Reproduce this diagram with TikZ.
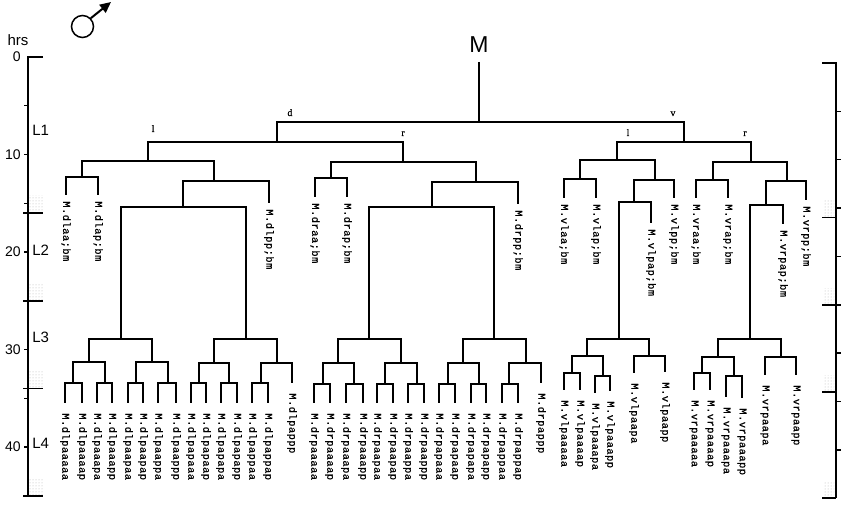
\documentclass[tikz,border=0pt]{standalone}
\usepackage{fontspec}
\setsansfont{Liberation Sans}
\newfontfamily\celltt[LetterSpace=4, FakeBold=0.7]{Liberation Mono}
\newfontfamily\sidefont[FakeBold=0.8]{Liberation Serif}
\usetikzlibrary{arrows.meta, positioning, patterns}

\begin{document}
\begin{tikzpicture}[x=1pt, y=-1pt, line width=2.6pt,
    lin/.style={draw, to path={-| (\tikztotarget) \tikztonodes}},
    br/.style={font=\sidefont\fontsize{10}{10}\selectfont, inner sep=0pt, anchor=base, yshift=6pt},
    fate/.style={font=\celltt\fontsize{10.5}{10.5}\selectfont, rotate=-90, anchor=west, inner xsep=5pt, inner ysep=0pt},
    fatel/.style={fate, inner xsep=9pt},
    root/.style={font=\sffamily\fontsize{23}{23}\selectfont, inner sep=0pt},
    axis/.style={line width=1.5pt},
    hour/.style={font=\sffamily\fontsize{14}{14}\selectfont, inner sep=0pt},
    stage/.style={font=\sffamily\fontsize{15}{15}\selectfont, inner sep=0pt, anchor=west},
    sleep/.style={pattern=dots, pattern color=gray!60}]
  \useasboundingbox (0,0) rectangle (850,513);

  %define the sex symbol
  \node[draw, circle, line width=1.5pt, minimum size=22pt, inner sep=0pt] (male) at (82.5,26.5) {};
  \coordinate (maletip) at (111,2);
  \draw[line width=2pt, -{Triangle[length=11pt,width=10pt]}] (male.45) -- (maletip);

  %define the time axes
  \foreach \y in {195,283,371,479} \fill[sleep] (28,\y) rectangle (43,{\y+17});
  \foreach \y in {200,288,375,481} \fill[sleep] (823,\y) rectangle (834,{\y+17});
  \draw[axis] (43,57) -- (28,57) -- (28,496);
  \foreach \h in {5,10,...,40} \draw[axis] (28,{57+9.75*\h}) -- ++(-4,0);
  \foreach \h in {16,25,34,45} \draw[axis] (23,{57+9.75*\h}) -- ++(20,0);
  \foreach \h in {0,10,...,40} \node[hour, anchor=east] (n\h) at (22,{57+9.75*\h}) {\h};
  \node[hour, font=\sffamily\fontsize{15}{15}\selectfont] (hrs) at (18,40) {hrs};
  \foreach \s/\y in {L1/130,L2/250,L3/337,L4/443} \node[stage] (\s) at (31,\y) {\s};
  \draw[axis] (822,63) -- (836,63) -- (836,498);
  \foreach \h in {5,10,...,40} \draw[axis] (836,{63+9.67*\h}) -- ++(5,0);
  \foreach \h in {16,25,34,45} \draw[axis] (822,{63+9.67*\h}) -- ++(14,0);

  %define the cells
  \coordinate (Mtop) at (479,62);
  \node[root, above=8pt of Mtop] (Mname) {M};
  \foreach \c/\x/\y in {
      M/479/122, d/277/142, v/684/142,
      dl/148/161, dr/403/162, vl/617/160, vr/751/162,
      dla/82/177, dlp/214/181, dlaa/66/195, dlap/98/195,
      dlpa/183/207, dlpp/269/203, dlpaa/121/339, dlpap/246/339,
      dlpaaa/89/362, dlpaap/152/362, dlpapa/214/363, dlpapp/277/363,
      dlpaaaa/73/383, dlpaaap/105/383, dlpaapa/136/383, dlpaapp/168/383,
      dlpapaa/199/383, dlpapap/229/383, dlpappa/261/383, dlpappp/292/383,
      dlpaaaaa/65/403, dlpaaaap/82/403, dlpaaapa/97/403, dlpaaapp/112/403,
      dlpaapaa/128/403, dlpaapap/143/403, dlpaappa/158/403, dlpaappp/176/403,
      dlpapaaa/191/403, dlpapaap/206/403, dlpapapa/221/403, dlpapapp/237/403,
      dlpappaa/252/403, dlpappap/268/403,
      dra/331/178, drp/476/182, draa/315/197, drap/347/197,
      drpa/432/207, drpp/518/204, drpaa/369/339, drpap/494/339,
      drpaaa/338/363, drpaap/401/363, drpapa/463/363, drpapp/526/363,
      drpaaaa/323/384, drpaaap/354/384, drpaapa/385/384, drpaapp/417/384,
      drpapaa/448/384, drpapap/479/384, drpappa/509/384, drpappp/541/383,
      drpaaaaa/314/403, drpaaaap/330/403, drpaaapa/346/403, drpaaapp/363/403,
      drpaapaa/377/403, drpaapap/393/403, drpaappa/408/403, drpaappp/424/403,
      drpapaaa/439/403, drpapaap/455/403, drpapapa/471/403, drpapapp/486/403,
      drpappaa/502/403, drpappap/518/403,
      vla/580/179, vlp/655/180, vlaa/564/198, vlap/596/198,
      vlpa/634/202, vlpp/674/198, vlpaa/619/339, vlpap/651/223,
      vlpaaa/587/356, vlpaap/649/356, vlpaaaa/572/373, vlpaaap/603/376,
      vlpaaaaa/564/390, vlpaaaap/580/390, vlpaaapa/595/393, vlpaaapp/610/391,
      vlpaapa/634/373, vlpaapp/665/372,
      vra/713/180, vrp/787/181, vraa/696/198, vrap/728/198,
      vrpa/766/205, vrpp/806/200, vrpaa/750/339, vrpap/783/224,
      vrpaaa/718/357, vrpaap/781/357, vrpaaaa/702/373, vrpaaap/734/376,
      vrpaaaaa/694/390, vrpaaaap/710/390, vrpaaapa/726/397, vrpaaapp/742/398,
      vrpaapa/765/375, vrpaapp/796/375}
    \coordinate (\c) at (\x,\y);

  %define the divisions
  \draw (Mtop) -- (M);
  \path (M) edge[lin] node[br, pos=.468] (dname) {d} (d)
            edge[lin] node[br, pos=.473] (vname) {v} (v)
        (d) edge[lin] node[br, pos=.48, yshift=4pt] (dlname) {l} (dl)
            edge[lin] node[br, pos=.5] (drname) {r} (dr)
        (v) edge[lin] node[br, pos=.418] (vlname) {l} (vl)
            edge[lin] node[br, pos=.455] (vrname) {r} (vr);
  \foreach \c in {dl,dla,dlp,dlpa,dlpaa,dlpap,dlpaaa,dlpaap,dlpapa,dlpapp,
      dlpaaaa,dlpaaap,dlpaapa,dlpaapp,dlpapaa,dlpapap,dlpappa,
      dr,dra,drp,drpa,drpaa,drpap,drpaaa,drpaap,drpapa,drpapp,
      drpaaaa,drpaaap,drpaapa,drpaapp,drpapaa,drpapap,drpappa,
      vl,vla,vlp,vlpa,vlpaa,vlpaaa,vlpaap,vlpaaaa,vlpaaap,
      vr,vra,vrp,vrpa,vrpaa,vrpaaa,vrpaap,vrpaaaa,vrpaaap}
    \path (\c) edge[lin] (\c a) edge[lin] (\c p);

  %define the fates
  \foreach \c in {dlaa,dlap,dlpp,draa,drap,drpp,vlaa,vlap,vlpap,vlpp,vraa,vrap,vrpap,vrpp}
    \node[fate] (t\c) at (\c) {M.\c;bm};
  \foreach \c in {dlpaaaaa,dlpaaaap,dlpaaapa,dlpaaapp,dlpaapaa,dlpaapap,dlpaappa,dlpaappp,
      dlpapaaa,dlpapaap,dlpapapa,dlpapapp,dlpappaa,dlpappap,dlpappp,
      drpaaaaa,drpaaaap,drpaaapa,drpaaapp,drpaapaa,drpaapap,drpaappa,drpaappp,
      drpapaaa,drpapaap,drpapapa,drpapapp,drpappaa,drpappap,drpappp,
      vlpaaaaa,vlpaaaap,vlpaaapa,vlpaaapp,vlpaapa,vlpaapp,
      vrpaaaaa,vrpaaaap,vrpaaapa,vrpaaapp,vrpaapa,vrpaapp}
    \node[fatel] (t\c) at (\c) {M.\c};
\end{tikzpicture}
\end{document}
